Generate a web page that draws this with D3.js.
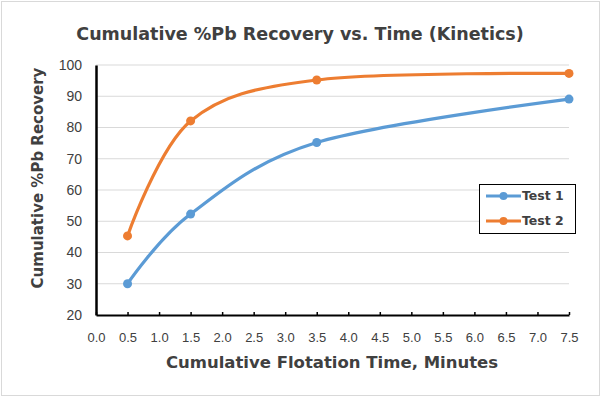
<!DOCTYPE html>
<html>
<head>
<meta charset="utf-8">
<script src="https://cdn.jsdelivr.net/npm/d3@7"></script>
<style>
  body { margin: 0; background: #fff; }
  svg { display: block; font-family: "DejaVu Sans", "Open Sans", sans-serif; }
</style>
</head>
<body>
<div id="chart"></div>
<script>
(function () {
    'use strict';

    var times = [0.5, 1.5, 3.5, 7.5];
    var test1 = [30, 52.3, 75.2, 89.1];
    var test2 = [45.3, 82.1, 95.2, 97.3];
    var seriesNames = ['Test 1', 'Test 2'];
    var seriesColors = ['#5b9bd5', '#ed7d31'];
    var xTicks = d3.range(0, 7.51, 0.5);
    var yTicks = [20, 30, 40, 50, 60, 70, 80, 90, 100];

    var width = 602, height = 398;
    var margin = { top: 65, right: 33, bottom: 83, left: 96 };
    var textColor = '#404040';

    var svg = d3.select('#chart').append('svg')
        .attr('width', width)
        .attr('height', height);

    // outer frame
    svg.append('rect')
        .attr('x', 1.5).attr('y', 1.5)
        .attr('width', width - 4).attr('height', height - 4)
        .attr('fill', '#fff')
        .attr('stroke', '#d9d9d9');

    var x = d3.scaleLinear().domain([0, 7.5]).range([margin.left, width - margin.right]);
    var y = d3.scaleLinear().domain([20, 100]).range([height - margin.bottom, margin.top]);

    // gridlines
    svg.append('g')
        .selectAll('line')
        .data(yTicks.slice(1))
        .enter().append('line')
        .attr('x1', x(0)).attr('x2', x(7.5))
        .attr('y1', function (d) { return y(d); })
        .attr('y2', function (d) { return y(d); })
        .attr('stroke', '#d9d9d9')
        .attr('stroke-width', 1);

    // x axis
    var xAxis = svg.append('g')
        .attr('transform', 'translate(0,' + y(20) + ')')
        .call(d3.axisBottom(x).tickValues(xTicks).tickSizeInner(-3).tickSizeOuter(0)
            .tickFormat(d3.format('.1f')));
    xAxis.select('.domain').attr('stroke', '#000').attr('stroke-width', 2);
    xAxis.selectAll('.tick line').attr('stroke', '#000').attr('stroke-width', 1.5);
    xAxis.selectAll('.tick text')
        .attr('y', 18)
        .attr('font-size', 13)
        .attr('fill', textColor);

    // y axis
    var yAxis = svg.append('g')
        .attr('transform', 'translate(' + x(0) + ',0)')
        .call(d3.axisLeft(y).tickValues(yTicks).tickSize(0));
    yAxis.select('.domain').attr('stroke', '#000').attr('stroke-width', 2.5);
    yAxis.selectAll('.tick text')
        .attr('x', -14)
        .attr('font-size', 14)
        .attr('fill', textColor);

    // series
    var series = [test1, test2];
    var line = d3.line()
        .x(function (d) { return x(d[0]); })
        .y(function (d) { return y(d[1]); })
        .curve(d3.curveCardinal.tension(0));

    series.forEach(function (vals, i) {
        var pts = times.map(function (t, j) { return [t, vals[j]]; });
        svg.append('path')
            .datum(pts)
            .attr('d', line)
            .attr('fill', 'none')
            .attr('stroke', seriesColors[i])
            .attr('stroke-width', 3.2)
            .attr('stroke-linecap', 'round');
        svg.append('g').selectAll('circle')
            .data(pts)
            .enter().append('circle')
            .attr('cx', function (d) { return x(d[0]); })
            .attr('cy', function (d) { return y(d[1]); })
            .attr('r', 4.5)
            .attr('fill', seriesColors[i]);
    });

    // title
    svg.append('text')
        .attr('x', 300).attr('y', 40)
        .attr('text-anchor', 'middle')
        .attr('font-size', 17.5)
        .attr('font-weight', 'bold')
        .attr('fill', textColor)
        .text('Cumulative %Pb Recovery vs. Time (Kinetics)');

    // axis titles
    svg.append('text')
        .attr('x', 332).attr('y', 368)
        .attr('text-anchor', 'middle')
        .attr('font-size', 16.5)
        .attr('font-weight', 'bold')
        .attr('fill', textColor)
        .text('Cumulative Flotation Time, Minutes');

    svg.append('text')
        .attr('transform', 'translate(43,178) rotate(-90)')
        .attr('text-anchor', 'middle')
        .attr('font-size', 15)
        .attr('font-weight', 'bold')
        .attr('fill', textColor)
        .text('Cumulative %Pb Recovery');

    // legend
    var legend = svg.append('g').attr('transform', 'translate(479,184)');
    legend.append('rect')
        .attr('x', 0.5).attr('y', 0.5)
        .attr('width', 96).attr('height', 49)
        .attr('fill', '#fff')
        .attr('stroke', '#000');
    var item = legend.selectAll('.item')
        .data(seriesNames)
        .enter().append('g')
        .attr('class', 'item')
        .attr('transform', function (d, i) { return 'translate(0,' + (12 + i * 25) + ')'; });
    item.append('line')
        .attr('x1', 7).attr('x2', 42)
        .attr('stroke', function (d, i) { return seriesColors[i]; })
        .attr('stroke-width', 3.2);
    item.append('circle')
        .attr('cx', 24.5).attr('r', 4)
        .attr('fill', function (d, i) { return seriesColors[i]; });
    item.append('text')
        .attr('x', 43).attr('dy', '0.35em')
        .attr('font-size', 12.5)
        .attr('font-weight', 'bold')
        .attr('fill', textColor)
        .text(function (d) { return d; });
})();
</script>
</body>
</html>
